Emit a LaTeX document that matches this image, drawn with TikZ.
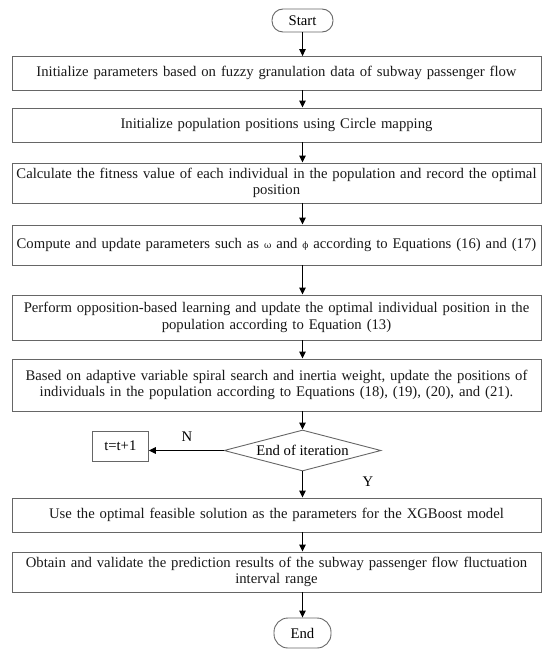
\documentclass[tikz,border=0pt]{standalone}
\usepackage{fontspec}
\setmainfont{Liberation Serif}
\newfontfamily\symf{DejaVu Serif}
\usetikzlibrary{shapes.geometric,arrows.meta}
\begin{document}
\begin{tikzpicture}[x=1pt,y=-1pt,
  font=\fontsize{14.7}{16.4}\selectfont,
  procbox/.style={draw=black!60,line width=0.9pt,minimum width=529pt,text width=529pt,align=center,inner sep=0pt,text=black!90},
  term/.style={draw=black!60,line width=0.9pt,rounded corners=11pt,inner sep=0pt,align=center},
  arr/.style={-{Triangle[length=7pt,width=6.5pt]},line width=1.1pt,black},
  lbl/.style={inner sep=0pt}]
\useasboundingbox (0,0) rectangle (550,652);
\node[term,minimum width=61pt,minimum height=23pt] (start) at (302.5,20.5) {Start};
\node[procbox,minimum height=33.5pt] (b1) at (276.5,73.3) {Initialize parameters based on fuzzy granulation data of subway passenger flow};
\node[procbox,minimum height=34pt] (b2) at (276.5,125) {Initialize population positions using Circle mapping};
\node[procbox,minimum height=40pt] (b3) at (276.5,183) {Calculate the fitness value of each individual in the population and record the optimal\\position};
\node[procbox,minimum height=40pt] (b4) at (276.5,245) {Compute and update parameters such as {\symf\fontsize{9}{12}\selectfont ω} and {\symf\fontsize{9}{12}\selectfont ϕ} according to Equations (16) and (17)};
\node[procbox,minimum height=45pt] (b5) at (276.5,317.5) {Perform opposition-based learning and update the optimal individual position in the\\population according to Equation (13)};
\node[procbox,minimum height=52pt] (b6) at (276.5,385) {Based on adaptive variable spiral search and inertia weight, update the positions of\\individuals in the population according to Equations (18), (19), (20), and (21).};
\node[diamond,draw=black!60,line width=0.9pt,aspect=3.8,minimum width=157pt,minimum height=41pt,inner sep=0pt] (dia) at (302.5,450.5) {End of iteration};
\node[draw=black!60,line width=0.9pt,minimum width=56pt,minimum height=30pt,inner sep=0pt] (t) at (120.3,446) {t=t+1};
\node[procbox,minimum height=34pt] (b7) at (276.5,515) {Use the optimal feasible solution as the parameters for the XGBoost model};
\node[procbox,minimum height=40pt] (b8) at (276.5,572) {Obtain and validate the prediction results of the subway passenger flow fluctuation\\interval range};
\node[term,minimum width=57pt,minimum height=30pt,rounded corners=14pt] (end) at (302.5,633) {End};
\node[lbl] (nl) at (187,437) {N};
\node[lbl] (yl) at (368,482) {Y};
\draw[arr] (start) -- (start |- b1.north);
\draw[arr] (b1.south -| start) -- (b2.north -| start);
\draw[arr] (b2.south -| start) -- (b3.north -| start);
\draw[arr] (b3.south -| start) -- (b4.north -| start);
\draw[arr] (b4.south -| start) -- (b5.north -| start);
\draw[arr] (b5.south -| start) -- (b6.north -| start);
\draw[arr] (b6.south -| dia) -- (dia.north);
\draw[arr] (dia.west) -- (dia.west -| t.east);
\draw[arr] (dia.south) -- (b7.north -| dia);
\draw[arr] (b7.south -| start) -- (b8.north -| start);
\draw[arr] (b8.south -| end) -- (end.north);
\end{tikzpicture}
\end{document}
